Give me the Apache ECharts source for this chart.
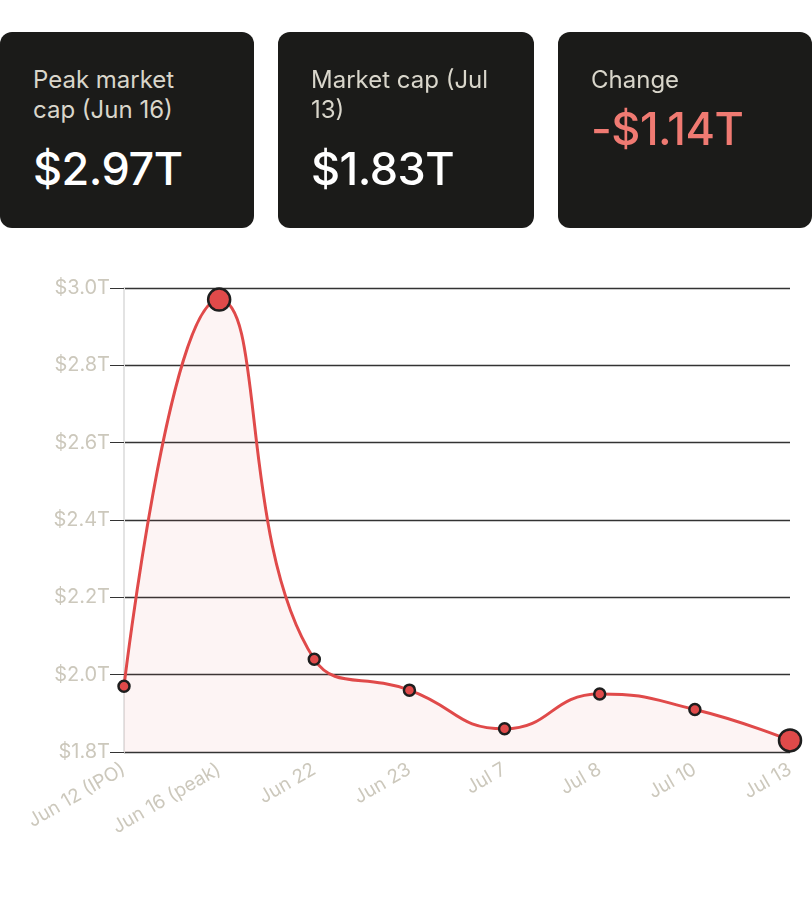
<!DOCTYPE html>
<html><head><meta charset="utf-8">
<script src="https://cdn.jsdelivr.net/npm/echarts@6/dist/echarts.min.js"></script>
<style>
body{margin:0;width:812px;height:900px;background:#fff;font-family:Inter,"Noto Sans",sans-serif;position:relative;overflow:hidden}
.card{position:absolute;top:32px;height:196px;background:#1b1b19;border-radius:12px;box-sizing:border-box;padding:33px 40px 0 33px}
.lbl{color:#d9d6cb;font-size:24px;line-height:30px}
.val{color:#fff;font-size:45px;font-weight:500;margin-top:16px;letter-spacing:-0.5px}
#c{position:absolute;left:0;top:0;width:812px;height:900px}
</style></head><body>
<div id="c"></div>
<div class="card" style="left:0;width:254px;padding-right:60px"><div class="lbl">Peak market cap (Jun 16)</div><div class="val">$2.97T</div></div>
<div class="card" style="left:278px;width:256px"><div class="lbl">Market cap (Jul 13)</div><div class="val">$1.83T</div></div>
<div class="card" style="left:558px;width:254px"><div class="lbl">Change</div><div class="val" style="color:#f07a72;margin-top:6px">-$1.14T</div></div>
<script>
const categories=["Jun 12 (IPO)","Jun 16 (peak)","Jun 22","Jun 23","Jul 7","Jul 8","Jul 10","Jul 13"];
const marketCap=[1.97,2.97,2.04,1.96,1.86,1.95,1.91,1.83];
const bigPoints=[1,7];
const ch=echarts.init(document.getElementById('c'));
ch.setOption({
 animation:false,
 grid:{left:124,right:22,top:288,bottom:148},
 xAxis:{type:'category',data:categories,boundaryGap:false,
  axisLine:{show:false},axisTick:{show:false},
  axisLabel:{rotate:30,color:'#ccc8bc',fontSize:19,margin:16,interval:0,fontFamily:'Inter'}},
 yAxis:{type:'value',min:1.8,max:3.0,interval:0.2,
  axisLine:{show:true,lineStyle:{color:'#e3e3e3',width:2}},
  axisTick:{show:true,length:14,lineStyle:{color:'#333'}},
  splitLine:{lineStyle:{color:'#333',width:1.3}},
  axisLabel:{color:'#ccc8bc',fontSize:20,margin:14,fontFamily:'Inter',formatter:v=>'$'+v.toFixed(1)+'T'}},
 series:[{type:'line',smooth:0.5,data:marketCap.map((v,i)=>({value:v,symbolSize:bigPoints.includes(i)?22:11})),
  symbol:'circle',
  lineStyle:{color:'#e04a4a',width:3},
  itemStyle:{color:'#e04a4a',borderColor:'#1e1e1e',borderWidth:2.5},
  areaStyle:{color:'rgba(224,74,74,0.09)',origin:'start'}}]
});
</script></body></html>
